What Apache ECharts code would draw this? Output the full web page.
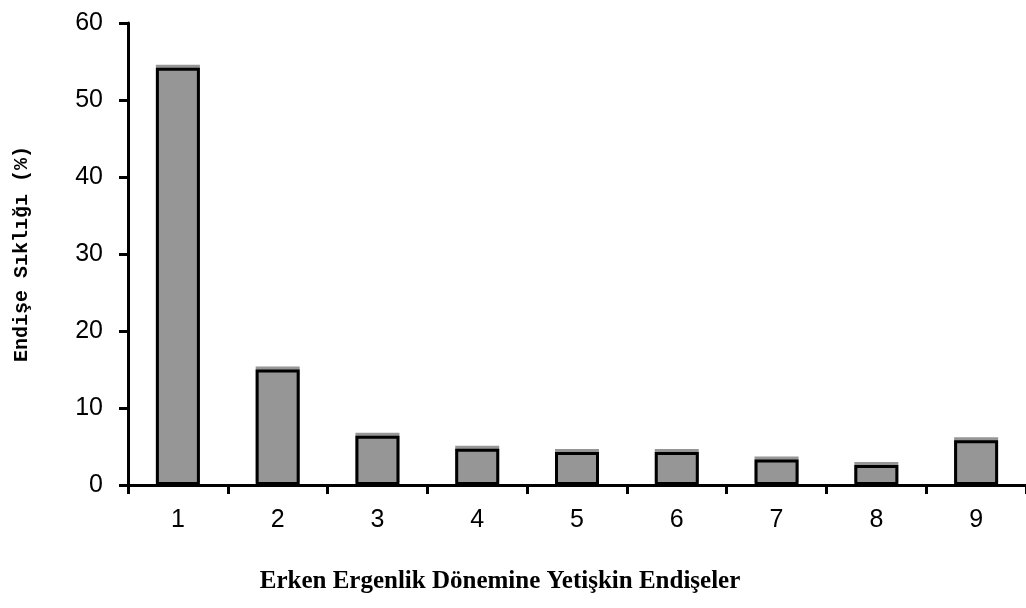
<!DOCTYPE html>
<html><head><meta charset="utf-8">
<script src="https://cdn.jsdelivr.net/npm/echarts@6/dist/echarts.min.js"></script>
<style>html,body{margin:0;padding:0;background:#fff}#c{width:1026px;height:608px}</style>
</head><body><div id="c"></div>
<script>
const categories = ['1','2','3','4','5','6','7','8','9'];
const values = [54.2, 15.0, 6.4, 4.7, 4.3, 4.3, 3.3, 2.6, 5.8];
const yTicks = [0, 10, 20, 30, 40, 50, 60];
const xTitle = 'Erken Ergenlik Dönemine Yetişkin Endişeler';
const yTitle = 'Endişe Sıklığı (%)';

const chart = echarts.init(document.getElementById('c'));
chart.setOption({
  animation: false,
  grid: {left: 128, top: 23, width: 900, height: 462},
  xAxis: {
    type: 'category', data: categories,
    axisLine: {lineStyle: {color: '#000', width: 3}},
    axisTick: {show: true, length: 9, lineStyle: {color: '#000', width: 3}},
    axisLabel: {color: '#000', fontSize: 25, fontFamily: 'Liberation Sans', margin: 23}
  },
  yAxis: {
    type: 'value', min: yTicks[0], max: yTicks[yTicks.length-1], interval: 10,
    name: yTitle, nameLocation: 'middle', nameGap: 96,
    nameTextStyle: {color: '#000', fontSize: 20, fontFamily: 'Liberation Mono', fontWeight: 'bold'},
    splitLine: {show: false},
    axisLine: {show: true, lineStyle: {color: '#000', width: 3}},
    axisTick: {show: true, length: 9, lineStyle: {color: '#000', width: 3}},
    axisLabel: {color: '#000', fontSize: 25, fontFamily: 'Liberation Sans', margin: 25}
  },
  graphic: [{
    type: 'text', x: 500, y: 582,
    style: {text: xTitle, fill: '#000', font: 'bold 25px "Liberation Serif"', align: 'center', verticalAlign: 'middle'}
  }],
  series: [{
    type: 'bar', data: values, barWidth: 44,
    itemStyle: {color: '#969696', borderColor: '#000', borderWidth: 3,
      shadowColor: '#969696', shadowBlur: 0, shadowOffsetY: -3, shadowOffsetX: 0}
  }]
});
</script></body></html>
